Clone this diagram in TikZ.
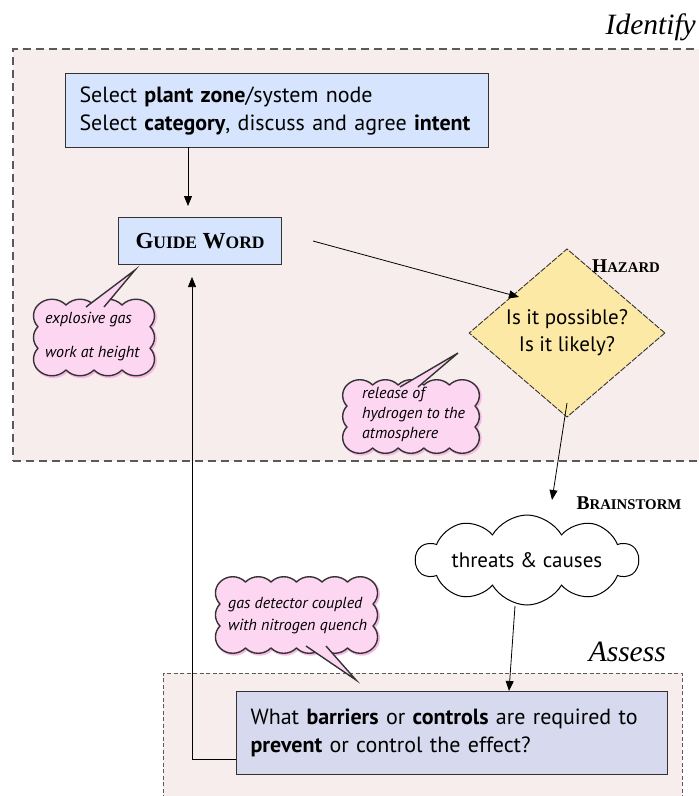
\documentclass[tikz,border=0pt]{standalone}
\usepackage{fontspec}
\setmainfont{Liberation Serif}
\setsansfont{PT Sans}
\usetikzlibrary{shapes.geometric,shapes.symbols,arrows.meta}

\definecolor{zonebg}{HTML}{F8EDED}
\definecolor{zoneedge}{HTML}{5A5A5A}
\definecolor{boxblue}{HTML}{D6E5FD}
\definecolor{boxlav}{HTML}{D7D9EE}
\definecolor{hazyel}{HTML}{FCE9A6}
\definecolor{notepink}{HTML}{FDD6F1}
\definecolor{noteglow}{HTML}{F7B8E4}
\definecolor{edgegray}{HTML}{333333}

% letters set at a given size (used for hand-made small capitals)
\newcommand\capsmall[2]{{\fontsize{#1}{#1}\selectfont #2}}

% scalloped outline of a speech bubble:
% #1,#2 top-left corner, #3,#4 bottom-right corner, #5 bumps across, #6 bumps down
\newcommand\scallop[6]{%
  (#1,#2)
  foreach \i in {1,...,#5} { to[bend left=45] ({#1+\i*(#3-#1)/#5},#2) }
  foreach \i in {1,...,#6} { to[bend left=45] (#3,{#2+\i*(#4-#2)/#6}) }
  foreach \i in {1,...,#5} { to[bend left=45] ({#3-\i*(#3-#1)/#5},#4) }
  foreach \i in {1,...,#6} { to[bend left=45] (#1,{#4-\i*(#4-#2)/#6}) }
  -- cycle}

\tikzset{
  zone/.style={fill=zonebg, draw=zoneedge, inner sep=0pt, anchor=north west},
  stepbox/.style={draw=edgegray, line width=1.1pt, inner sep=0pt, anchor=north west},
  mainfont/.style={font=\sffamily\fontsize{22}{28}\selectfont},
  steplabel/.style={font=\bfseries, inner sep=0pt},
  zonetitle/.style={font=\itshape\fontsize{29.5}{29.5}\selectfont, anchor=base east, inner sep=0pt},
  flow/.style={-{Triangle[length=10pt,width=8pt]}, line width=0.8pt},
  notecloud/.style={fill=notepink, draw=edgegray, line width=1.4pt, line join=round},
  noteglowcloud/.style={draw=noteglow, line width=2.2pt, xshift=1.3pt, yshift=-1.3pt},
  notetext/.style={font=\sffamily\itshape\fontsize{16}{16}\selectfont, anchor=base west, inner sep=0pt},
  pointer/.style={draw=edgegray, line width=1.4pt, line join=miter},
}

\begin{document}
\begin{tikzpicture}[x=1pt, y=-1pt]
\useasboundingbox (0,0) rectangle (699,796);

% ---------------- Identify zone ----------------
\node[zone, line width=1.6pt, dash pattern=on 8pt off 5pt,
      minimum width=700pt, minimum height=412pt] (idzone) at (12,48) {};
\node[zonetitle] (idtitle) at (696,34) {Identify};

% ---------------- Assess zone ----------------
\node[zone, line width=0.8pt, dash pattern=on 4pt off 2.5pt,
      minimum width=519pt, minimum height=140pt] (aszone) at (163,673) {};
\node[zonetitle] (astitle) at (666,661) {Assess};

% ---------------- steps ----------------
\node[stepbox, fill=boxblue, minimum width=423pt, minimum height=74pt,
      mainfont, text width=395pt, align=left] (select) at (65,73)
  {Select \textbf{plant zone}/system node\\
   Select \textbf{category}, discuss and agree \textbf{intent}};

\node[stepbox, fill=boxblue, minimum width=163pt, minimum height=47pt] (guide) at (118,217) {};
\node[steplabel] (guidetxt) at (guide.center)
  {\capsmall{23}{G}\capsmall{17.5}{UIDE}\hspace{3pt} \capsmall{23}{W}\capsmall{17.5}{ORD}};

\node[diamond, fill=hazyel, draw=edgegray, line width=0.9pt, dash pattern=on 6pt off 1.5pt,
      minimum width=196pt, minimum height=139pt, inner sep=0pt,
      font=\sffamily\fontsize{21}{27}\selectfont, align=center] (hazard) at (567,333)
  {Is it possible?\\Is it likely?};
\node[steplabel] (hazardlbl) at (626,266)
  {\capsmall{19.5}{H}\capsmall{14.8}{AZARD}};

\node[cloud, cloud puffs=10, cloud puff arc=120, cloud ignores aspect,
      draw=black, fill=white, line width=1pt,
      minimum width=222pt, minimum height=90pt, inner sep=0pt,
      font=\sffamily\fontsize{21}{21}\selectfont] (threats) at (527,560) {threats \& causes};
\node[steplabel] (brainlbl) at (629,503)
  {\capsmall{19.5}{B}\capsmall{14.8}{RAINSTORM}};

\node[stepbox, fill=boxlav, minimum width=431pt, minimum height=83pt,
      mainfont, text width=403pt, align=left] (barrier) at (236,691)
  {What \textbf{barriers} or \textbf{controls} are required to\\
   \textbf{prevent} or control the effect?};

% ---------------- connectors ----------------
\coordinate (selbot) at (188,147);
\coordinate (guidein) at (188,206);
\draw[flow] (selbot) -- (guidein);

\coordinate (guideout) at (313,241);
\coordinate (hazin) at (519,297);
\draw[flow] (guideout) -- (hazin);

\coordinate (hazbot) at (567,403);
\coordinate (cloudin) at (552,500);
\draw[flow] (hazbot) -- (cloudin);

\coordinate (cloudbot) at (515,606);
\coordinate (barin) at (509,691);
\draw[flow] (cloudbot) -- (barin);

\coordinate (backstart) at (236,759);
\coordinate (backcorner) at (192,759);
\coordinate (guideback) at (192,277);
\draw[flow, line width=0.7pt] (backstart) -- (backcorner) -- (guideback);

% ---------------- notes ----------------
% explosive gas
\draw[noteglowcloud] \scallop{38}{305}{150}{370}{4}{3};
\draw[notecloud] \scallop{38}{305}{150}{370}{4}{3};
\coordinate (n1tip) at (135,270);
\coordinate (n1a) at (86,307);
\coordinate (n1b) at (104,307);
\fill[notepink] (n1a) -- (n1tip) -- (n1b) -- ([yshift=-8pt]n1b) -- ([yshift=-8pt]n1a) -- cycle;
\draw[pointer] (n1a) -- (n1tip) -- (n1b);
\node[notetext] (n1t1) at (45,323) {explosive gas};
\node[notetext] (n1t2) at (45,357) {work at height};

% release of hydrogen
\draw[noteglowcloud] \scallop{347}{385}{475}{448}{5}{3};
\draw[notecloud] \scallop{347}{385}{475}{448}{5}{3};
\coordinate (n2tip) at (458,353);
\coordinate (n2a) at (400,387);
\coordinate (n2b) at (418,387);
\fill[notepink] (n2a) -- (n2tip) -- (n2b) -- ([yshift=-8pt]n2b) -- ([yshift=-8pt]n2a) -- cycle;
\draw[pointer] (n2a) -- (n2tip) -- (n2b);
\node[notetext] (n2t1) at (362,398) {release of};
\node[notetext] (n2t2) at (362,418) {hydrogen to the};
\node[notetext] (n2t3) at (362,438) {atmosphere};

% gas detector
\draw[noteglowcloud] \scallop{220}{582}{373}{648}{6}{3};
\draw[notecloud] \scallop{220}{582}{373}{648}{6}{3};
\coordinate (n3tip) at (356,680);
\coordinate (n3a) at (306,646);
\coordinate (n3b) at (326,646);
\fill[notepink] (n3a) -- (n3tip) -- (n3b) -- ([yshift=8pt]n3b) -- ([yshift=8pt]n3a) -- cycle;
\draw[pointer] (n3a) -- (n3tip) -- (n3b);
\node[notetext] (n3t1) at (228,608) {gas detector coupled};
\node[notetext] (n3t2) at (228,630) {with nitrogen quench};

\end{tikzpicture}
\end{document}
